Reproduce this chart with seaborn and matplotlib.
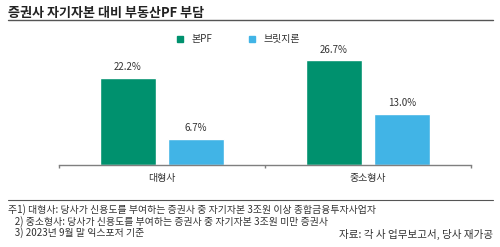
import matplotlib
matplotlib.use("Agg")
import matplotlib.pyplot as plt
import seaborn as sns
import pandas as pd
from matplotlib.lines import Line2D

categories = ["대형사", "중소형사"]
series_names = ["본PF", "브릿지론"]
bon_pf = [22.2, 26.7]
bridge = [6.7, 13.0]
colors = ["#00916E", "#41B4E6"]

title = "증권사 자기자본 대비 부동산PF 부담"
notes = [
    "주1) 대형사: 당사가 신용도를 부여하는 증권사 중 자기자본 3조원 이상 종합금융투자사업자",
    "   2) 중소형사: 당사가 신용도를 부여하는 증권사 중 자기자본 3조원 미만 증권사",
    "   3) 2023년 9월 말 익스포저 기준",
]
source = "자료: 각 사 업무보고서, 당사 재가공"

df = pd.DataFrame({
    "cat": categories * 2,
    "series": [series_names[0]] * 2 + [series_names[1]] * 2,
    "value": bon_pf + bridge,
})

sns.set_theme(style="white")
plt.rcParams["font.family"] = ["Noto Sans CJK KR", "DejaVu Sans"]

fig = plt.figure(figsize=(5.0, 2.47), dpi=100)
ax = fig.add_axes([0.118, 0.332, 0.824, 0.476])

sns.barplot(data=df, x="cat", y="value", hue="series", palette=colors,
            order=categories, hue_order=series_names, width=0.66,
            gap=0.19, ax=ax, legend=False, saturation=1)

for cont in ax.containers:
    ax.bar_label(cont, labels=[f"{v:.1f}%" for v in cont.datavalues],
                 padding=4, fontsize=7, color="#333333")

ax.set_ylim(0, 30)
ax.set_xlim(-0.5, 1.5)
ax.set_yticks([])
ax.set_xlabel("")
ax.set_ylabel("")
for s in ["top", "right", "left"]:
    ax.spines[s].set_visible(False)
ax.spines["bottom"].set_color("#7f7f7f")
ax.spines["bottom"].set_linewidth(1.0)
ax.set_xticks([-0.5, 0.5, 1.5], minor=True)
ax.tick_params(axis="x", which="minor", length=2.5, color="#7f7f7f", direction="out", bottom=True)
ax.tick_params(axis="x", which="major", length=0, labelsize=7.2, colors="#333333", pad=6)

# legend
handles = [Line2D([], [], marker="s", linestyle="", color=c, markersize=4) for c in colors]
fig.legend(handles, series_names, loc="center", bbox_to_anchor=(0.47, 0.842),
           ncol=2, frameon=False, fontsize=7.2, handletextpad=0.1, columnspacing=3.0,
           labelcolor="#333333")

# title and lines
fig.text(0.016, 0.948, title, fontsize=9.4, fontweight="bold", color="#222222", va="center")
fig.add_artist(Line2D([0.016, 0.986], [0.921, 0.921], color="#555555", linewidth=1.0))
fig.add_artist(Line2D([0.016, 0.986], [0.19, 0.19], color="#555555", linewidth=0.8))

ys = [0.15, 0.102, 0.057]
for t, y in zip(notes, ys):
    fig.text(0.016, y, t, fontsize=7.1, color="#333333", va="center")
fig.text(0.986, 0.049, source, fontsize=7.6, color="#333333", va="center", ha="right")

fig.savefig("out.png", dpi=100)
